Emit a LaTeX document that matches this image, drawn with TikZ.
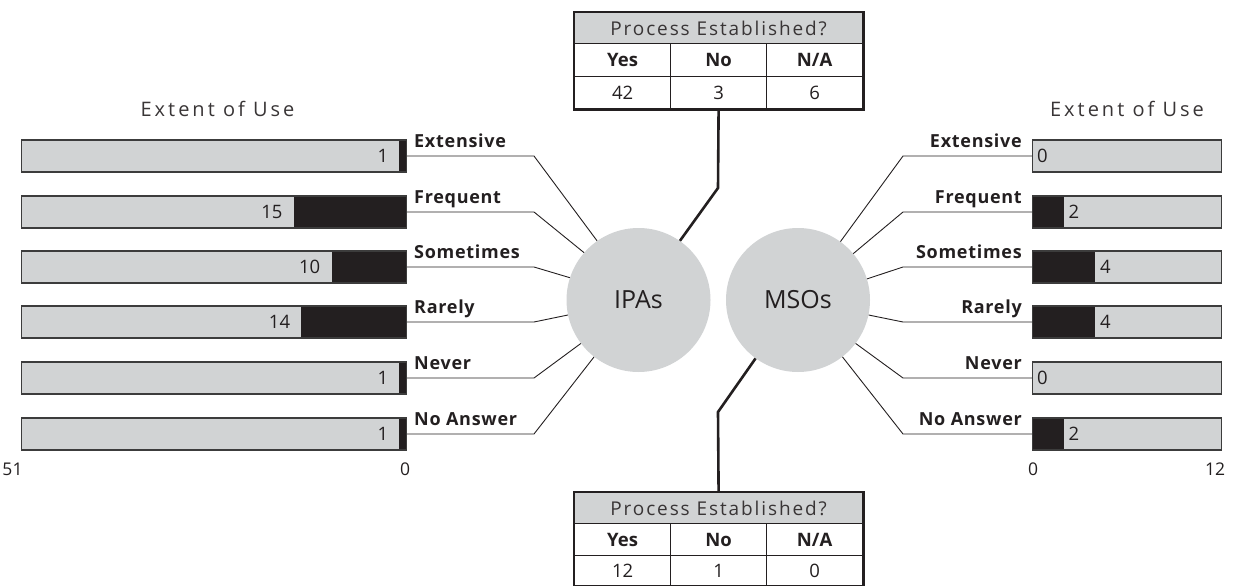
\documentclass[tikz,border=0pt]{standalone}
\usepackage{fontspec}
\setmainfont{Open Sans}
\newfontfamily\spaced[LetterSpace=10]{Open Sans}
\newfontfamily\titlefont[LetterSpace=15]{Open Sans}
\newfontfamily\labfont[LetterSpace=4]{Open Sans}
\definecolor{bargray}{HTML}{D1D3D4}
\definecolor{barblack}{HTML}{231F20}
\definecolor{edgegray}{HTML}{3C3C3C}
\definecolor{txt}{HTML}{231F20}
\tikzset{
  hub/.style={circle,fill=bargray,minimum size=144pt,inner sep=0pt,font=\fontsize{25}{29}\selectfont,text=txt},
  barbox/.style={draw=edgegray,line width=1.4pt,fill=bargray,minimum height=32pt,inner sep=0pt},
  catlab/.style={font=\labfont\fontsize{18}{21}\selectfont\bfseries,text=txt,inner sep=0pt},
  numlab/.style={font=\fontsize{18.5}{21}\selectfont,text=txt,inner sep=0pt},
  axislab/.style={font=\fontsize{17.5}{20}\selectfont,text=txt,inner sep=0pt},
  titlelab/.style={font=\titlefont\fontsize{20}{23}\selectfont,text=txt!90,inner sep=0pt},
  leader/.style={draw=barblack,line width=0.9pt},
  tablink/.style={draw=barblack,line width=2.6pt},
  hcell/.style={draw=barblack,line width=1.2pt,fill=bargray,minimum width=288pt,inner sep=0pt,font=\spaced\fontsize{19}{22}\selectfont,text=txt!90},
  ccell/.style={draw=barblack,line width=1.2pt,minimum width=96pt,inner sep=0pt,text=txt},
  colhead/.style={ccell,font=\fontsize{18.5}{21}\selectfont\bfseries},
  colval/.style={ccell,font=\fontsize{18.5}{21}\selectfont},
}
\begin{document}
\begin{tikzpicture}[x=1pt,y=-1pt]
\useasboundingbox (0,0) rectangle (1243,586);

% hubs
\node[hub] (ipa) at (638.5,300) {IPAs};
\node[hub] (mso) at (798,300) {MSOs};

% titles
\node[titlelab] (ltitle) at (217.5,109) {Extent of Use};
\node[titlelab] (rtitle) at (1127,109) {Extent of Use};

% left bars (scale 385/51 per unit)
\foreach \i/\lab/\val/\y/\ang in {1/Extensive/1/156/125.8, 2/Frequent/15/212/139.7, 3/Sometimes/10/267/162.4, 4/Rarely/14/322/192.8, 5/Never/1/378/217.4, 6/No Answer/1/434/232}{
  \pgfmathsetmacro{\w}{\val*385/51}
  \node[barbox,minimum width=385pt,anchor=east] (lb\i) at (407,\y) {};
  \fill[barblack] (407-\w,\y-15.3) rectangle (406.3,\y+15.3);
  \node[numlab,anchor=base east] (ln\i) at (396-\w,\y+6.6) {\val};
  \node[catlab,anchor=base west] (ll\i) at (414,\y-9) {\lab};
  \coordinate (lk\i) at (534,\y);
  \draw[leader] (lb\i.east) -- (lk\i) -- (ipa.\ang);
}

% right bars (scale 189/12 per unit)
\foreach \i/\lab/\val/\y/\ang in {1/Extensive/0/156/54.2, 2/Frequent/2/212/40.3, 3/Sometimes/4/267/17.6, 4/Rarely/4/322/-12.8, 5/Never/0/378/-37.4, 6/No Answer/2/434/-52}{
  \pgfmathsetmacro{\w}{\val*189/12}
  \node[barbox,minimum width=189pt,anchor=west] (rb\i) at (1032,\y) {};
  \ifdim\w pt>0pt \fill[barblack] (1032.7,\y-15.3) rectangle (1032+\w,\y+15.3);\fi
  \node[numlab,anchor=base west] (rn\i) at (1037+\w,\y+6.6) {\val};
  \node[catlab,anchor=base east] (rl\i) at (1022,\y-9) {\lab};
  \coordinate (rk\i) at (903,\y);
  \draw[leader] (rb\i.west) -- (rk\i) -- (mso.\ang);
}

% axis labels
\node[axislab] (a51) at (12.5,469) {51};
\node[axislab] (a0l) at (405,469) {0};
\node[axislab] (a0r) at (1033,469) {0};
\node[axislab] (a12) at (1215,469) {12};

% top table
\node[hcell,minimum height=31pt,anchor=north west] (th) at (574,12) {Process Established?};
\node[colhead,minimum height=33pt,anchor=north west] (ty) at (574,43) {Yes};
\node[colhead,minimum height=33pt,anchor=north west] (tn) at (670,43) {No};
\node[colhead,minimum height=33pt,anchor=north west] (ta) at (766,43) {N/A};
\node[colval,minimum height=32pt,anchor=north west] (tyv) at (574,76) {42};
\node[colval,minimum height=32pt,anchor=north west] (tnv) at (670,76) {3};
\node[colval,minimum height=32pt,anchor=north west] (tav) at (766,76) {6};
\draw[barblack,line width=2.6pt] (th.north west) rectangle (tav.south east);
\coordinate (tbend) at (718,188);
\draw[tablink] (tnv.south) -- (tbend) -- (ipa.55.3);

% bottom table
\node[hcell,minimum height=31pt,anchor=north west] (bh) at (574,492) {Process Established?};
\node[colhead,minimum height=32pt,anchor=north west] (by) at (574,523) {Yes};
\node[colhead,minimum height=32pt,anchor=north west] (bn) at (670,523) {No};
\node[colhead,minimum height=32pt,anchor=north west] (ba) at (766,523) {N/A};
\node[colval,minimum height=30pt,anchor=north west] (byv) at (574,555) {12};
\node[colval,minimum height=30pt,anchor=north west] (bnv) at (670,555) {1};
\node[colval,minimum height=30pt,anchor=north west] (bav) at (766,555) {0};
\draw[barblack,line width=2.6pt] (bh.north west) rectangle (bav.south east);
\coordinate (bbend) at (718,412);
\draw[tablink] (bh.north) -- (bbend) -- (mso.234.6);
\end{tikzpicture}
\end{document}
